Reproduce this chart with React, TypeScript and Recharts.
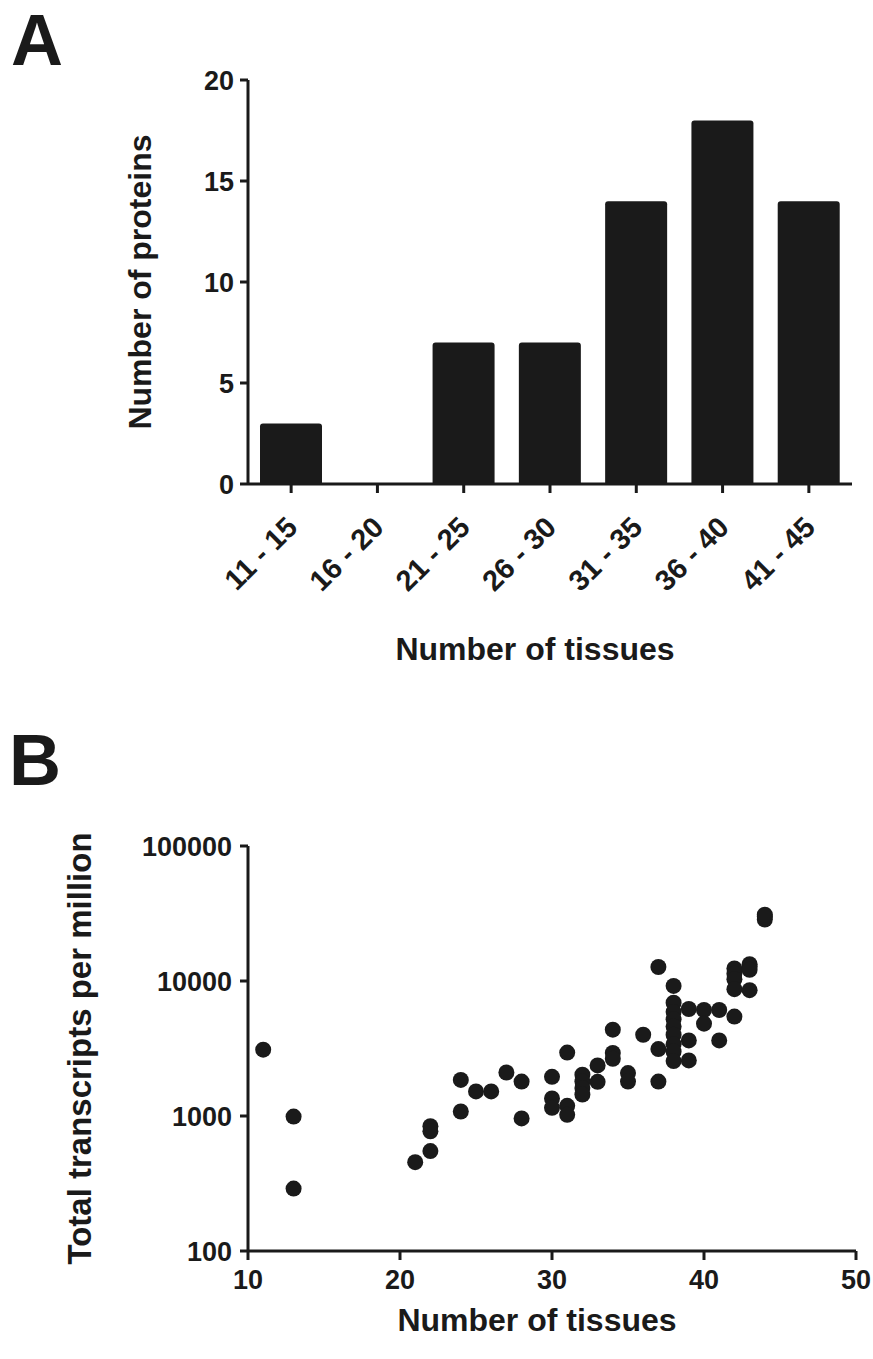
import React from 'react';
import { BarChart, Bar, XAxis, YAxis, ScatterChart, Scatter, Label } from 'recharts';

const INK = '#1a1a1a';
const FONT = '"Liberation Sans", Arial, Helvetica, sans-serif';

// Panel A
const binLabels = ['11 - 15', '16 - 20', '21 - 25', '26 - 30', '31 - 35', '36 - 40', '41 - 45'];
const proteinCounts = [3, 0, 7, 7, 14, 18, 14];
const countTicks = [0, 5, 10, 15, 20];

// Panel B
const tissueCounts = [
  11, 13, 13,
  21, 22, 22, 22, 24, 24, 25,
  26, 27, 28, 28, 30, 30, 30,
  31, 31, 31, 32, 32, 32, 32, 33, 33, 34, 34, 34, 35, 35,
  36, 37, 37, 37, 38, 38, 38, 38, 38, 38, 38, 38, 38, 39, 39, 39, 40, 40,
  41, 41, 42, 42, 42, 42, 42, 43, 43, 43, 43, 44, 44, 44,
];
const transcriptsPerMillion = [
  3100, 990, 290,
  455, 550, 840, 770, 1850, 1080, 1520,
  1520, 2100, 1800, 960, 1950, 1350, 1150,
  2950, 1190, 1020, 2020, 1800, 1610, 1440, 2370, 1790, 4360, 2930, 2650, 2080, 1800,
  4000, 12700, 3130, 1800, 9200, 6900, 5900, 5200, 4600, 4000, 3400, 3000, 2550, 6200, 3630, 2580, 6100, 4830,
  6100, 3630, 12400, 11300, 10300, 8700, 5450, 13300, 12800, 12100, 8550, 28500, 30000, 31000,
];
const tissueTicks = [10, 20, 30, 40, 50];
const tpmTicks = [100, 1000, 10000, 100000];

const barData = binLabels.map((bin, i) => ({ bin, count: proteinCounts[i] }));
const scatterData = tissueCounts.map((t, i) => ({ tissues: t, tpm: transcriptsPerMillion[i] }));

const axisLine = { stroke: INK, strokeWidth: 3 };
const tickLine = { stroke: INK, strokeWidth: 3 };
const tickFont = { fill: INK, fontSize: 27, fontWeight: 700, fontFamily: FONT };

const AngledTick = (props: any) => {
  const { x, y, payload } = props;
  return (
    <g transform={`translate(${x},${y})`}>
      <text
        x={8}
        y={34}
        textAnchor="end"
        transform="rotate(-45 8 34)"
        fill={INK}
        fontSize={29}
        fontWeight={700}
        fontFamily={FONT}
      >
        {payload.value}
      </text>
    </g>
  );
};

const Dot = (props: any) => {
  const { cx, cy } = props;
  if (cx == null || cy == null) return null;
  return <circle cx={cx} cy={cy} r={8} fill={INK} />;
};

const titleStyle = { fill: INK, fontSize: 32, fontWeight: 700, fontFamily: FONT } as any;

const XTitle = (dy: number, dx: number) => (props: any) => {
  const vb = props.viewBox;
  const cx = vb.x + vb.width / 2 + dx;
  return (
    <text x={cx} y={vb.y + dy} textAnchor="middle" {...titleStyle}>
      {props.value}
    </text>
  );
};

const YTitle = (bx: number, size: number) => (props: any) => {
  const vb = props.viewBox;
  const cy = vb.y + vb.height / 2;
  return (
    <text x={bx} y={cy} textAnchor="middle" transform={`rotate(-90 ${bx} ${cy})`} {...titleStyle} fontSize={size}>
      {props.value}
    </text>
  );
};

export default function App() {
  return (
    <div style={{ position: 'absolute', left: 0, top: 0, width: 873, height: 1359, background: '#fff' }}>
      <div style={{ position: 'absolute', left: 0, top: 0 }}>
        <BarChart width={873} height={680} data={barData} margin={{ top: 80, right: 21, bottom: 46, left: 168 }}>
          <XAxis
            dataKey="bin"
            type="category"
            height={150}
            axisLine={axisLine}
            tickLine={tickLine}
            tickSize={9}
            interval={0}
            tick={<AngledTick />}
          >
            <Label value="Number of tissues" content={XTitle(176, -15)} />
          </XAxis>
          <YAxis
            type="number"
            domain={[0, 20]}
            ticks={countTicks}
            interval={0}
            width={80}
            axisLine={axisLine}
            tickLine={tickLine}
            tickSize={8}
            tickMargin={6}
            tick={tickFont}
          >
            <Label value="Number of proteins" content={YTitle(151, 32)} />
          </YAxis>
          <Bar dataKey="count" fill={INK} barSize={62} radius={[3, 3, 0, 0]} isAnimationActive={false} />
        </BarChart>
      </div>
      <div style={{ position: 'absolute', left: 0, top: 680 }}>
        <ScatterChart width={873} height={679} margin={{ top: 166, right: 17, bottom: 48, left: 148 }}>
          <XAxis
            dataKey="tissues"
            type="number"
            domain={[10, 50]}
            ticks={tissueTicks}
            interval={0}
            allowDataOverflow
            height={60}
            axisLine={axisLine}
            tickLine={tickLine}
            tickSize={9}
            tickMargin={10}
            tick={tickFont}
          >
            <Label value="Number of tissues" content={XTitle(80, -15)} />
          </XAxis>
          <YAxis
            dataKey="tpm"
            type="number"
            scale="log"
            domain={[100, 100000]}
            ticks={tpmTicks}
            interval={0}
            allowDataOverflow
            width={100}
            axisLine={axisLine}
            tickLine={tickLine}
            tickSize={8}
            tickMargin={8}
            tick={tickFont}
          >
            <Label value="Total transcripts per million" content={YTitle(91, 33)} />
          </YAxis>
          <Scatter data={scatterData} fill={INK} shape={<Dot />} isAnimationActive={false} />
        </ScatterChart>
      </div>
      <svg width={873} height={1359} style={{ position: 'absolute', left: 0, top: 0, pointerEvents: 'none' }}>
        <text x={11} y={65} fontSize={72} fontWeight={700} fontFamily={FONT} fill={INK}>A</text>
        <text x={9} y={785} fontSize={72} fontWeight={700} fontFamily={FONT} fill={INK}>B</text>
      </svg>
    </div>
  );
}
